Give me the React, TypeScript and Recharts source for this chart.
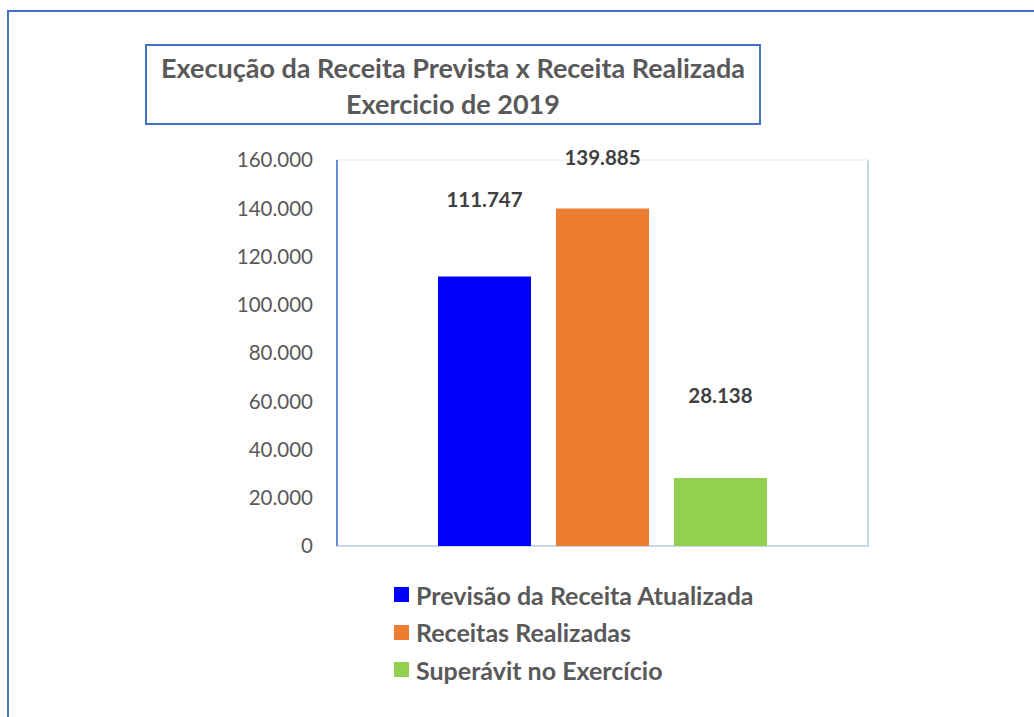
import { BarChart, Bar, XAxis, YAxis, LabelList, ReferenceLine, ReferenceArea } from "recharts";

const category = "2019";
const seriesNames = [
  "Previsão da Receita Atualizada",
  "Receitas Realizadas",
  "Superávit no Exercício",
];
const seriesValues = [111747, 139885, 28138];
const seriesColors = ["#0000FF", "#ED7D31", "#92D050"];
const yTicks = [0, 20000, 40000, 60000, 80000, 100000, 120000, 140000, 160000];

// how far each value label floats above its bar
const labelLift = [69, 44, 75];

const fmt = (v: number) => String(v).replace(/\B(?=(\d{3})+(?!\d))/g, ".");

const row: Record<string, string | number> = { name: category };
seriesNames.forEach((s, i) => {
  row[`s${i}`] = seriesValues[i];
});
const data = [row];

const FONT = "Lato, 'Open Sans', sans-serif";
const TEXT = "#595959";

export default function App() {
  return (
    <div
      style={{
        position: "fixed",
        left: 0,
        top: 0,
        width: 1034,
        height: 717,
        overflow: "hidden",
        background: "#fff",
        fontFamily: FONT,
      }}
    >
      {/* outer frame */}
      <div
        style={{
          position: "absolute",
          left: 7,
          top: 10,
          width: 1100,
          height: 800,
          borderLeft: "2px solid #4472C4",
          borderTop: "2px solid #4472C4",
        }}
      />

      {/* title box */}
      <div
        style={{
          position: "absolute",
          left: 145,
          top: 44,
          width: 616,
          height: 81,
          boxSizing: "border-box",
          border: "2px solid #4472C4",
          color: TEXT,
          fontWeight: 700,
          fontSize: 27,
          lineHeight: "36px",
          textAlign: "center",
          paddingTop: 4,
          whiteSpace: "nowrap",
        }}
      >
        <div>Execução da Receita Prevista x Receita Realizada</div>
        <div>Exercicio de 2019</div>
      </div>

      <div style={{ position: "absolute", left: 0, top: 0 }}>
        <BarChart
          width={1034}
          height={717}
          data={data}
          margin={{ top: 160, right: 166, bottom: 171, left: 237 }}
          barSize={93}
          barGap={25}
        >
          {/* plot frame: right and bottom sides light blue, top very faint */}
          <ReferenceArea
            y1={0}
            y2={160000}
            fill="none"
            fillOpacity={0}
            stroke="#C9D6F0"
            strokeWidth={2}
            strokeDasharray="0 531 3000"
          />
          <ReferenceLine y={160000} stroke="#F0F2FA" strokeWidth={2} />
          <XAxis
            dataKey="name"
            tick={false}
            tickLine={false}
            height={0}
            axisLine={{ stroke: "#CBD8F1", strokeWidth: 2 }}
          />
          <YAxis
            width={100}
            domain={[0, 160000]}
            ticks={yTicks}
            tickFormatter={fmt}
            tickLine={false}
            tickSize={0}
            tickMargin={24}
            axisLine={{ stroke: "#4472C4", strokeWidth: 1.5 }}
            tick={{ fill: TEXT, fontSize: 20.5, fontFamily: FONT }}
          />
          {seriesNames.map((s, i) => (
            <Bar
              key={s}
              dataKey={`s${i}`}
              name={s}
              fill={seriesColors[i]}
              isAnimationActive={false}
            >
              <LabelList
                dataKey={`s${i}`}
                position="top"
                offset={labelLift[i]}
                formatter={(v: any) => fmt(Number(v))}
                style={{ fill: "#404040", fontSize: 20.5, fontWeight: 700, fontFamily: FONT }}
              />
            </Bar>
          ))}
        </BarChart>
      </div>

      {/* legend */}
      <div style={{ position: "absolute", left: 394, top: 576 }}>
        {seriesNames.map((s, i) => (
          <div
            key={s}
            style={{ display: "flex", alignItems: "center", height: 37.5 }}
          >
            <span
              style={{
                width: 15,
                height: 15,
                background: seriesColors[i],
                display: "inline-block",
                marginRight: 7,
              }}
            />
            <span style={{ color: TEXT, fontWeight: 700, fontSize: 25 }}>{s}</span>
          </div>
        ))}
      </div>
    </div>
  );
}
